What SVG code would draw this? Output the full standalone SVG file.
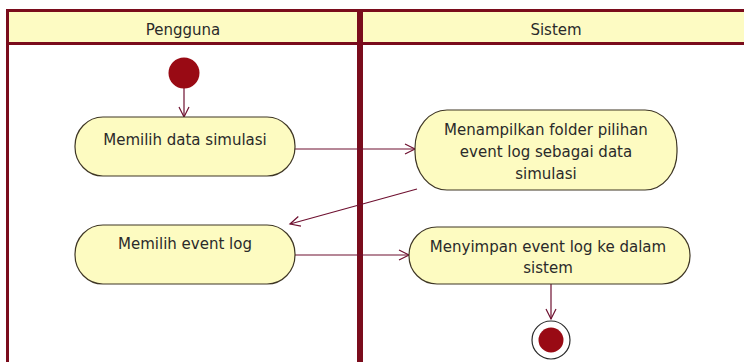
<svg xmlns="http://www.w3.org/2000/svg" width="744" height="362" viewBox="0 0 744 362">
  <style>
    .lane-line { stroke: #7a0c1c; fill: none; }
    .header { fill: #fdfbc3; }
    .lane-title { font-family: "DejaVu Sans", Verdana, sans-serif; font-size: 15px; fill: #2a2a2a; text-anchor: middle; }
    .action { fill: #fdfbc1; stroke: #3e3624; stroke-width: 1.2; }
    .label { font-family: "DejaVu Sans", Verdana, sans-serif; font-size: 15px; fill: #2a2a2a; text-anchor: middle; }
    .flow { stroke: #6e1030; stroke-width: 1.2; fill: none; marker-end: url(#open-arrow); }
    .dot { fill: #990a14; }
  </style>
  <defs>
    <marker id="open-arrow" markerUnits="userSpaceOnUse" markerWidth="14" markerHeight="14" refX="11" refY="6" orient="auto">
      <path d="M1,1 L11,6 L1,11" fill="none" stroke="#6e1030" stroke-width="1.2"/>
    </marker>
  </defs>

  <rect width="744" height="362" fill="#ffffff"/>

  <!-- swimlanes -->
  <g id="lanes">
    <rect class="header" x="9" y="12" width="735" height="30"/>
    <line class="lane-line" x1="6" y1="10.5" x2="744" y2="10.5" stroke-width="3"/>
    <line class="lane-line" x1="6" y1="43.5" x2="744" y2="43.5" stroke-width="3"/>
    <line class="lane-line" x1="7.5" y1="9" x2="7.5" y2="362" stroke-width="3"/>
    <line class="lane-line" x1="360" y1="9" x2="360" y2="362" stroke-width="6"/>
    <text class="lane-title" x="183" y="35">Pengguna</text>
    <text class="lane-title" x="556" y="35">Sistem</text>
  </g>

  <!-- connectors -->
  <g id="connectors">
    <line class="flow" x1="184" y1="88" x2="184" y2="117"/>
    <line class="flow" x1="295" y1="149" x2="415" y2="149"/>
    <line class="flow" x1="417" y1="189" x2="290" y2="224"/>
    <line class="flow" x1="295" y1="255" x2="409" y2="255"/>
    <line class="flow" x1="551" y1="284" x2="551" y2="319"/>
  </g>

  <g id="start">
    <circle class="dot" cx="184" cy="73" r="15.5"/>
  </g>

  <g id="memilih-data-simulasi">
    <rect class="action" x="75" y="117" width="220" height="59" rx="28" ry="29"/>
    <text class="label" x="185" y="145">Memilih data simulasi</text>
  </g>

  <g id="menampilkan-folder">
    <rect class="action" x="415" y="110" width="262" height="80" rx="32" ry="38"/>
    <text class="label" x="546" y="135">Menampilkan folder pilihan</text>
    <text class="label" x="546" y="157">event log sebagai data</text>
    <text class="label" x="546" y="179">simulasi</text>
  </g>

  <g id="memilih-event-log">
    <rect class="action" x="75" y="225" width="220" height="59" rx="28" ry="29"/>
    <text class="label" x="185" y="249">Memilih event log</text>
  </g>

  <g id="menyimpan-event-log">
    <rect class="action" x="409" y="227" width="281" height="57" rx="28" ry="28"/>
    <text class="label" x="548" y="252">Menyimpan event log ke dalam</text>
    <text class="label" x="548" y="273">sistem</text>
  </g>

  <g id="end">
    <circle cx="551" cy="340" r="19" fill="#ffffff" stroke="#2a2a2a" stroke-width="1.2"/>
    <circle class="dot" cx="551" cy="340" r="12.5"/>
  </g>
</svg>
